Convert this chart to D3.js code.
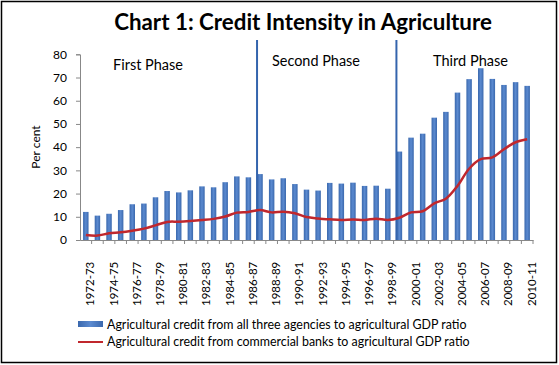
<!DOCTYPE html>
<html><head><meta charset="utf-8">
<script src="https://cdn.jsdelivr.net/npm/d3@7"></script>
<style>body{margin:0;background:#fff}svg{display:block}text{font-family:Lato,"Open Sans",sans-serif;fill:#000}</style>
</head><body><svg id="c" width="559" height="365"></svg>
<script>
const years = ["1972-73","1973-74","1974-75","1975-76","1976-77","1977-78","1978-79","1979-80","1980-81","1981-82","1982-83","1983-84","1984-85","1985-86","1986-87","1987-88","1988-89","1989-90","1990-91","1991-92","1992-93","1993-94","1994-95","1995-96","1996-97","1997-98","1998-99","1999-00","2000-01","2001-02","2002-03","2003-04","2004-05","2005-06","2006-07","2007-08","2008-09","2009-10","2010-11"];
const allAgencies = [12.1,10.5,11.3,12.9,15.4,15.7,18.4,21.1,20.5,21.4,23.1,22.7,24.9,27.4,27.0,28.4,26.1,26.6,24.1,21.7,21.3,24.6,24.3,24.7,23.3,23.4,22.1,38.1,44.1,45.8,52.7,55.2,63.5,69.3,74.0,69.4,66.8,68.0,66.4];
const commercialBanks = [2.2,1.9,2.9,3.3,4.0,4.9,6.3,7.8,7.9,8.2,8.6,9.1,10.1,11.8,12.1,12.9,11.9,12.2,11.5,9.9,9.3,8.9,8.6,8.8,8.6,9.2,8.6,9.6,11.9,12.4,15.8,17.8,23.3,30.7,34.8,35.6,39.1,42.1,43.4];
const yTicks = [0,10,20,30,40,50,60,70,80];
const phaseStarts = ["1987-88","1999-00"];
const phaseLabels = ["First Phase","Second Phase","Third Phase"];
const legendLabels = ["Agricultural credit from all three agencies to agricultural GDP ratio","Agricultural credit from commercial banks to agricultural GDP ratio"];
const title = "Chart 1: Credit Intensity in Agriculture";

const svg = d3.select("#c");
svg.append("rect").attr("x",1.5).attr("y",1.5).attr("width",555).attr("height",361).attr("fill","#fff").attr("stroke","#000").attr("stroke-width",1.5);

const L=80,R=533,T=40,B=240;
const x = d3.scaleBand().domain(years).range([L,R]).paddingInner(0.53).paddingOuter(0.265);
const xb = d3.scaleBand().domain(years).range([L,R]);
const y = d3.scaleLinear().domain([0,80]).range([B,54.3]);

const defs = svg.append("defs");
const g = defs.append("linearGradient").attr("id","bg").attr("x1","0").attr("x2","1").attr("y1","0").attr("y2","0");
g.append("stop").attr("offset","0").attr("stop-color","#3a68ad");
g.append("stop").attr("offset","0.5").attr("stop-color","#5b8ad0");
g.append("stop").attr("offset","1").attr("stop-color","#3a68ad");

function fit(sel, base, width){ const w = sel.node().getComputedTextLength(); sel.attr("font-size", base*width/w); }

const tt = svg.append("text").attr("x",303).attr("y",30).attr("text-anchor","middle").attr("font-weight","bold").attr("font-size",22).text(title);
fit(tt,22,378);

svg.append("g").selectAll("rect").data(allAgencies).join("rect")
  .attr("x",(d,i)=>x(years[i])).attr("width",x.bandwidth())
  .attr("y",d=>y(d)).attr("height",d=>B-y(d)).attr("fill","url(#bg)");

svg.append("g").selectAll("line").data(phaseStarts).join("line")
  .attr("x1",d=>xb(d)+xb.bandwidth()/2-3).attr("x2",d=>xb(d)+xb.bandwidth()/2-3)
  .attr("y1",T).attr("y2",B).attr("stroke","#3464ad").attr("stroke-width",2);

const line = d3.line().x((d,i)=>xb(years[i])+xb.bandwidth()/2).y(d=>y(d)).curve(d3.curveCatmullRom.alpha(0.5));
svg.append("path").datum(commercialBanks).attr("d",line).attr("fill","none").attr("stroke","#c0272d").attr("stroke-width",2.5);

const ya = svg.append("g").attr("transform",`translate(${L},0)`)
  .call(d3.axisLeft(y).tickValues(yTicks).tickSize(4).tickPadding(9));
ya.select(".domain").attr("stroke","#888");
ya.selectAll(".tick line").attr("stroke","#888");
ya.selectAll("text").attr("font-size",12).attr("fill","#000").style("font-family","Lato, sans-serif");

const xa = svg.append("g").attr("transform",`translate(0,${B})`)
  .call(d3.axisBottom(xb).tickSize(4).tickSizeOuter(0).tickFormat(d=>""));
xa.select(".domain").attr("stroke","#888");
xa.selectAll(".tick line").attr("stroke","#888").attr("transform",`translate(${xb.bandwidth()/2},0)`);
svg.append("g").selectAll("text").data(years.filter((d,i)=>i%2===0)).join("text")
  .attr("transform",d=>`translate(${xb(d)+xb.bandwidth()/2+8.5},306) rotate(-90)`)
  .attr("text-anchor","start").attr("font-size",11.5).text(d=>d);

svg.append("text").attr("transform","translate(40,147) rotate(-90)").attr("text-anchor","middle").attr("font-size",12).text("Per cent");

const phx=[113,272,433], phy=[70,66,66], phw=[70,88,75];
svg.append("g").selectAll("text").data(phaseLabels).join("text")
  .attr("x",(d,i)=>phx[i]).attr("y",(d,i)=>phy[i]).attr("font-size",14).text(d=>d)
  .each(function(d,i){ fit(d3.select(this),14,phw[i]); });

svg.append("rect").attr("x",78).attr("y",321).attr("width",25).attr("height",6).attr("fill","url(#bg)");
svg.append("line").attr("x1",78).attr("x2",103).attr("y1",342).attr("y2",342).attr("stroke","#c0272d").attr("stroke-width",2);
const lw=[360,363];
svg.append("g").selectAll("text").data(legendLabels).join("text")
  .attr("x",107).attr("y",(d,i)=>329+i*17).attr("font-size",12).text(d=>d)
  .each(function(d,i){ fit(d3.select(this),12,lw[i]); });
</script></body></html>
